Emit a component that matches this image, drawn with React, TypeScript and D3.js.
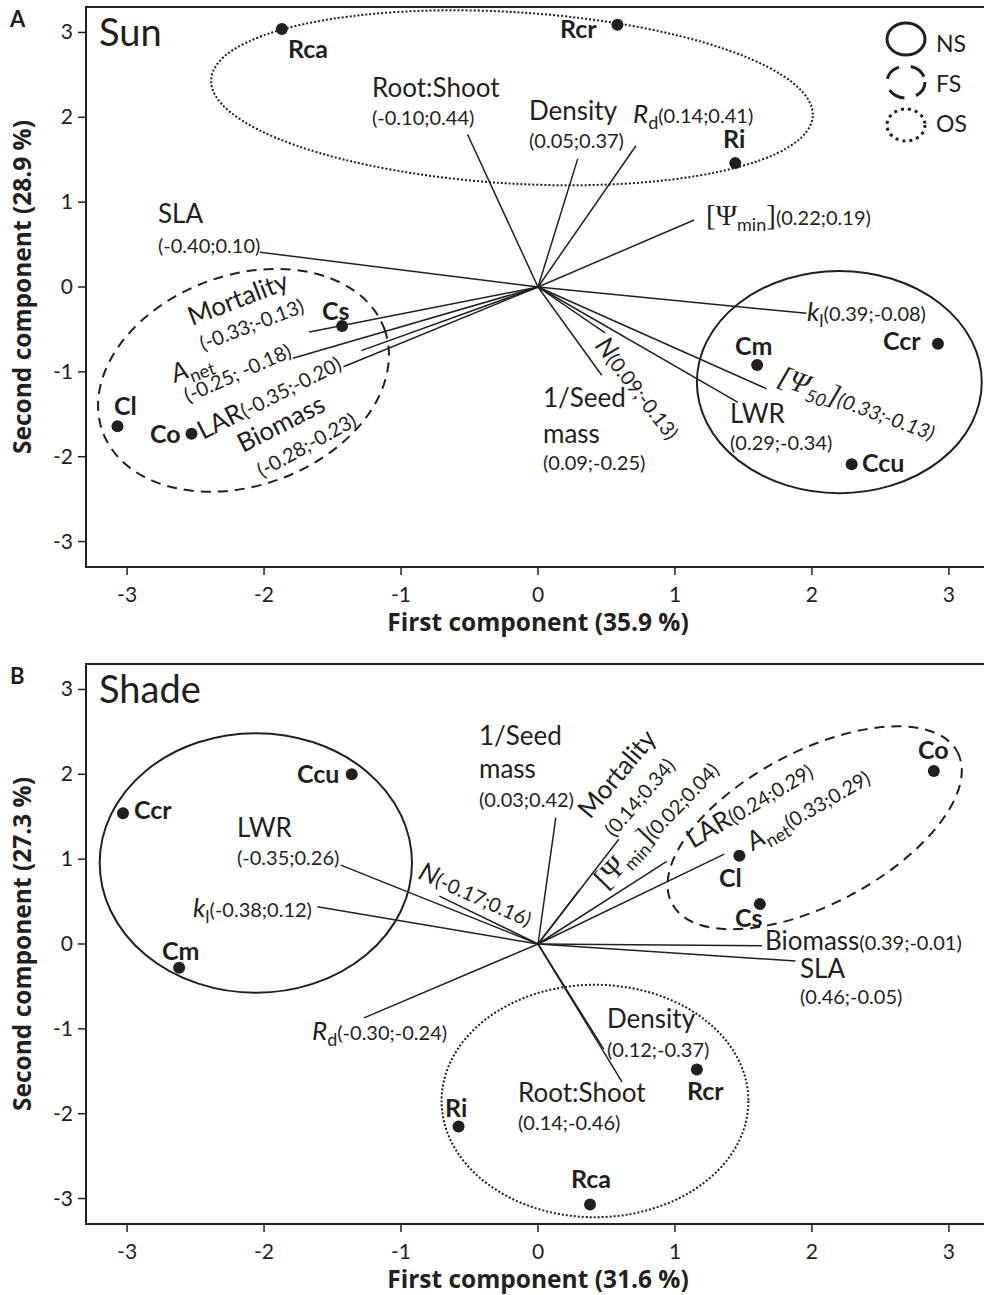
import React from "react";
import * as d3 from "d3";

// species scores (first, second component)
const speciesNames = ["Rca", "Rcr", "Ri", "Cs", "Cl", "Co", "Cm", "Ccr", "Ccu"];
const sunScoreX = [-1.87, 0.58, 1.44, -1.43, -3.07, -2.53, 1.6, 2.92, 2.29];
const sunScoreY = [3.04, 3.09, 1.46, -0.46, -1.64, -1.73, -0.92, -0.67, -2.09];
const shadeScoreX = [0.38, 1.16, -0.58, 1.62, 1.47, 2.89, -2.62, -3.03, -1.36];
const shadeScoreY = [-3.07, -1.48, -2.15, 0.47, 1.04, 2.04, -0.28, 1.54, 2.0];

// trait loadings and drawn vector tips
const traitKeys = ["Root:Shoot", "Density", "Rd", "Ψmin", "SLA", "kl", "Ψ50", "LWR", "N", "1/Seed mass", "Mortality", "Anet", "LAR", "Biomass"];
const sunLoadX = [-0.1, 0.05, 0.14, 0.22, -0.4, 0.39, 0.33, 0.29, 0.09, 0.09, -0.33, -0.25, -0.35, -0.28];
const sunLoadY = [0.44, 0.37, 0.41, 0.19, 0.1, -0.08, -0.13, -0.34, -0.13, -0.25, -0.13, -0.18, -0.2, -0.23];
const sunTipX = [-0.515, 0.29, 0.715, 1.14, -2.03, 1.96, 1.67, 1.46, 0.49, 0.465, -1.67, -1.79, -1.42, -1.29];
const sunTipY = [1.8, 1.51, 1.665, 0.79, 0.41, -0.31, -1.2, -1.36, -0.54, -1.04, -0.53, -0.84, -0.94, -0.75];
const shadeLoadX = [0.14, 0.12, -0.3, 0.02, 0.46, -0.38, null, -0.35, -0.17, 0.03, 0.14, 0.33, 0.24, 0.39];
const shadeLoadY = [-0.46, -0.37, -0.24, 0.04, -0.05, 0.12, null, 0.26, 0.16, 0.42, 0.34, 0.29, 0.29, -0.01];
const shadeTipX = [0.613, 0.48, -1.27, 0.3, 1.88, -1.61, null, -1.44, -0.72, 0.13, 0.59, 1.36, 0.94, 1.635];
const shadeTipY = [-1.624, -1.24, -0.87, 0.63, -0.2, 0.44, null, 0.93, 0.565, 1.49, 1.235, 1.06, 0.975, -0.02];

// groups (NS, FS, OS) outline ellipses: centre, radii (axis units), tilt
const groupNames = ["NS", "FS", "OS"];
const sunGroupCX = [2.2, -2.15, -0.19];
const sunGroupCY = [-1.12, -1.1, 2.23];
const sunGroupRX = [1.04, 1.095, 2.2];
const sunGroupRY = [1.31, 1.24, 1.01];
const sunGroupTilt = [0, -20, 3.5];
const shadeGroupCX = [-2.06, 2.02, 0.416];
const shadeGroupCY = [0.955, 1.37, -1.85];
const shadeGroupRX = [1.14, 1.18, 1.12];
const shadeGroupRY = [1.53, 0.9, 1.37];
const shadeGroupTilt = [0, -28, 0];

const FONT = "Lato, 'Open Sans', sans-serif";
const SERIF = "'Liberation Serif', 'DejaVu Serif', serif";
const INK = "#231f20";

const groupDash: Record<string, string | undefined> = { NS: undefined, FS: "10 7", OS: "2 2" };
const legendDash: Record<string, string | undefined> = { NS: undefined, FS: "17 12", OS: "3 4" };

type Part = { t: string; i?: boolean; sub?: boolean; serif?: boolean; small?: boolean };

const nameParts: Record<string, Part[]> = {
  Rd: [{ t: "R", i: true }, { t: "d", sub: true }],
  kl: [{ t: "k", i: true }, { t: "l", sub: true }],
  "Ψmin": [{ t: "[Ψ", serif: true }, { t: "min", sub: true }, { t: "]", serif: true }],
  "Ψ50": [{ t: "[Ψ", serif: true }, { t: "50", sub: true }, { t: "]", serif: true }],
  N: [{ t: "N", i: true }],
  Anet: [{ t: "A", i: true }, { t: "net", sub: true }],
};

// label placement (panel pixels): c = name | coords | both | literal text
type Row = { x: number; y: number; r?: number; c: string; it?: boolean; sep?: string };
const sunLabels: Record<string, Row[]> = {
  "Root:Shoot": [{ x: 372, y: 97, c: "name" }, { x: 372, y: 125, c: "coords" }],
  Density: [{ x: 529, y: 120, c: "name" }, { x: 529, y: 148, c: "coords" }],
  Rd: [{ x: 633, y: 123, c: "both" }],
  "Ψmin": [{ x: 706, y: 225, c: "both" }],
  SLA: [{ x: 158, y: 223, c: "name" }, { x: 158, y: 253, c: "coords" }],
  kl: [{ x: 807, y: 321, c: "both" }],
  "Ψ50": [{ x: 776, y: 384, r: 20, c: "both", it: true }],
  LWR: [{ x: 730, y: 423, c: "name" }, { x: 730, y: 450, c: "coords" }],
  N: [{ x: 594, y: 346, r: 52, c: "both" }],
  "1/Seed mass": [{ x: 543, y: 407, c: "1/Seed" }, { x: 543, y: 443, c: "mass" }, { x: 543, y: 470, c: "coords" }],
  Mortality: [{ x: 192, y: 326, r: -21, c: "name" }, { x: 203, y: 351, r: -21, c: "coords" }],
  Anet: [{ x: 175, y: 383, r: -21, c: "name" }, { x: 188, y: 403, r: -24, c: "coords", sep: "; " }],
  LAR: [{ x: 203, y: 440, r: -27, c: "both" }],
  Biomass: [{ x: 243, y: 453, r: -27, c: "name" }, { x: 262, y: 478, r: -29, c: "coords" }],
};
const shadeLabels: Record<string, Row[]> = {
  "1/Seed mass": [{ x: 479, y: 88, c: "1/Seed" }, { x: 479, y: 121, c: "mass" }, { x: 479, y: 150, c: "coords" }],
  Mortality: [{ x: 590, y: 163, r: -50, c: "name" }, { x: 614, y: 181, r: -49, c: "coords" }],
  "Ψmin": [{ x: 606, y: 233, r: -46, c: "both" }],
  LAR: [{ x: 693, y: 192, r: -31, c: "both" }],
  Anet: [{ x: 753, y: 194, r: -30, c: "both" }],
  Biomass: [{ x: 765, y: 293, c: "both" }],
  SLA: [{ x: 800, y: 321, c: "name" }, { x: 800, y: 347, c: "coords" }],
  LWR: [{ x: 237, y: 180, c: "name" }, { x: 237, y: 208, c: "coords" }],
  kl: [{ x: 193, y: 260, c: "both" }],
  N: [{ x: 417, y: 221, r: 24, c: "both" }],
  Rd: [{ x: 312, y: 383, c: "both" }],
  Density: [{ x: 607, y: 371, c: "name" }, { x: 607, y: 400, c: "coords" }],
  "Root:Shoot": [{ x: 518, y: 445, c: "name" }, { x: 518, y: 473, c: "coords" }],
};
const sunSpeciesPos = [[288, 58], [560, 38], [723, 148], [322, 320], [114, 415], [150, 443], [735, 355], [883, 350], [862, 472]];
const shadeSpeciesPos = [[571, 531], [687, 443], [445, 460], [735, 270], [719, 230], [918, 102], [162, 303], [134, 162], [297, 126]];

const fmt = (v: number) => v.toFixed(2);

function tspans(parts: Part[], italicAll?: boolean) {
  let shift = 0;
  return parts.map((p, k) => {
    const target = p.sub ? 6 : 0;
    const dy = target - shift;
    shift = target;
    const size = p.sub ? 18 : p.small ? 20 : p.serif ? 29 : 26;
    return (
      <tspan key={k} dy={dy !== 0 ? dy : undefined} fontSize={size}
        fontStyle={p.i || italicAll ? "italic" : undefined}
        fontFamily={p.serif ? SERIF : undefined}>{p.t}</tspan>
    );
  });
}

function Panel(props: any) {
  const { top, title, letter, xTitle, yTitle, scoreX, scoreY, loadX, loadY, tipX, tipY, labels, speciesPos, gcx, gcy, grx, gry, gtilt, legend } = props;
  const x = d3.scaleLinear().domain([-3.3, 3.3]).range([86, 990]);
  const y = d3.scaleLinear().domain([-3.3, 3.3]).range([567, 7]);
  const kx = x(1) - x(0);
  const ky = y(0) - y(1);
  const ticks = x.ticks(7);

  return (
    <g transform={`translate(0,${top})`} fontFamily={FONT} fill={INK}>
      <text x={10} y={27} fontSize={22} fontWeight="bold">{letter}</text>
      <path d={`M${x(3.3)},${y(3.3)}H${x(-3.3)}V${y(-3.3)}H${x(3.3)}`} fill="none" stroke={INK} strokeWidth={2} />
      {ticks.map(t => (
        <g key={"x" + t}>
          <line x1={x(t)} x2={x(t)} y1={567} y2={575} stroke={INK} strokeWidth={1.5} />
          <text x={x(t)} y={602} textAnchor="middle" fontSize={21}>{t}</text>
          <line x1={78} x2={86} y1={y(t)} y2={y(t)} stroke={INK} strokeWidth={1.5} />
          <text x={73} y={y(t) + 7} textAnchor="end" fontSize={21}>{t}</text>
        </g>
      ))}
      <text x={x(0)} y={631} textAnchor="middle" fontSize={24.5} fontWeight="bold" fontFamily="'Open Sans', sans-serif">{xTitle}</text>
      <text transform={`translate(31,${y(0)}) rotate(-90)`} textAnchor="middle" fontSize={24.5} fontWeight="bold" fontFamily="'Open Sans', sans-serif">{yTitle}</text>
      <text x={99} y={46} fontSize={38}>{title}</text>

      {groupNames.map((g, i) => (
        <ellipse key={g} cx={x(gcx[i])} cy={y(gcy[i])} rx={grx[i] * kx} ry={gry[i] * ky}
          transform={`rotate(${gtilt[i]} ${x(gcx[i])} ${y(gcy[i])})`}
          fill="none" stroke={INK} strokeWidth={2} strokeDasharray={groupDash[g]} />
      ))}

      {traitKeys.map((k, i) => tipX[i] == null ? null : (
        <line key={k} x1={x(0)} y1={y(0)} x2={x(tipX[i])} y2={y(tipY[i])} stroke={INK} strokeWidth={1.5} />
      ))}

      {traitKeys.map((k, i) => {
        const rows: Row[] | undefined = labels[k];
        if (!rows || loadX[i] == null) return null;
        const coords = (sep: string) => `(${fmt(loadX[i])}${sep}${fmt(loadY[i])})`;
        const name = nameParts[k] || [{ t: k }];
        return rows.map((r, j) => {
          let parts: Part[];
          if (r.c === "name") parts = name;
          else if (r.c === "coords") parts = [{ t: coords(r.sep || ";"), small: true }];
          else if (r.c === "both") parts = [...name, { t: coords(r.sep || ";"), small: true }];
          else parts = [{ t: r.c }];
          return (
            <text key={k + j} transform={`translate(${r.x},${r.y})${r.r ? ` rotate(${r.r})` : ""}`}>
              {tspans(parts, r.it)}
            </text>
          );
        });
      })}

      {speciesNames.map((s, i) => (
        <g key={s}>
          <circle cx={x(scoreX[i])} cy={y(scoreY[i])} r={6} fill={INK} />
          <text x={speciesPos[i][0]} y={speciesPos[i][1]} fontSize={25} fontWeight="bold">{s}</text>
        </g>
      ))}

      {legend && groupNames.map((g, i) => (
        <g key={"lg" + g}>
          <ellipse cx={906} cy={39 + i * 43} rx={19} ry={16} fill="none" stroke={INK} strokeWidth={3} strokeDasharray={legendDash[g]} />
          <text x={936} y={52 + i * 40} fontSize={23}>{g}</text>
        </g>
      ))}
    </g>
  );
}

export default function App() {
  return (
    <svg width={984} height={1295} style={{ position: "absolute", left: 0, top: 0, background: "#fff" }}>
      <rect width={984} height={1295} fill="#fff" />
      <Panel top={0} letter="A" title="Sun" xTitle="First component (35.9 %)" yTitle="Second component (28.9 %)"
        scoreX={sunScoreX} scoreY={sunScoreY} loadX={sunLoadX} loadY={sunLoadY} tipX={sunTipX} tipY={sunTipY}
        labels={sunLabels} speciesPos={sunSpeciesPos}
        gcx={sunGroupCX} gcy={sunGroupCY} grx={sunGroupRX} gry={sunGroupRY} gtilt={sunGroupTilt} legend />
      <Panel top={657} letter="B" title="Shade" xTitle="First component (31.6 %)" yTitle="Second component (27.3 %)"
        scoreX={shadeScoreX} scoreY={shadeScoreY} loadX={shadeLoadX} loadY={shadeLoadY} tipX={shadeTipX} tipY={shadeTipY}
        labels={shadeLabels} speciesPos={shadeSpeciesPos}
        gcx={shadeGroupCX} gcy={shadeGroupCY} grx={shadeGroupRX} gry={shadeGroupRY} gtilt={shadeGroupTilt} />
    </svg>
  );
}
